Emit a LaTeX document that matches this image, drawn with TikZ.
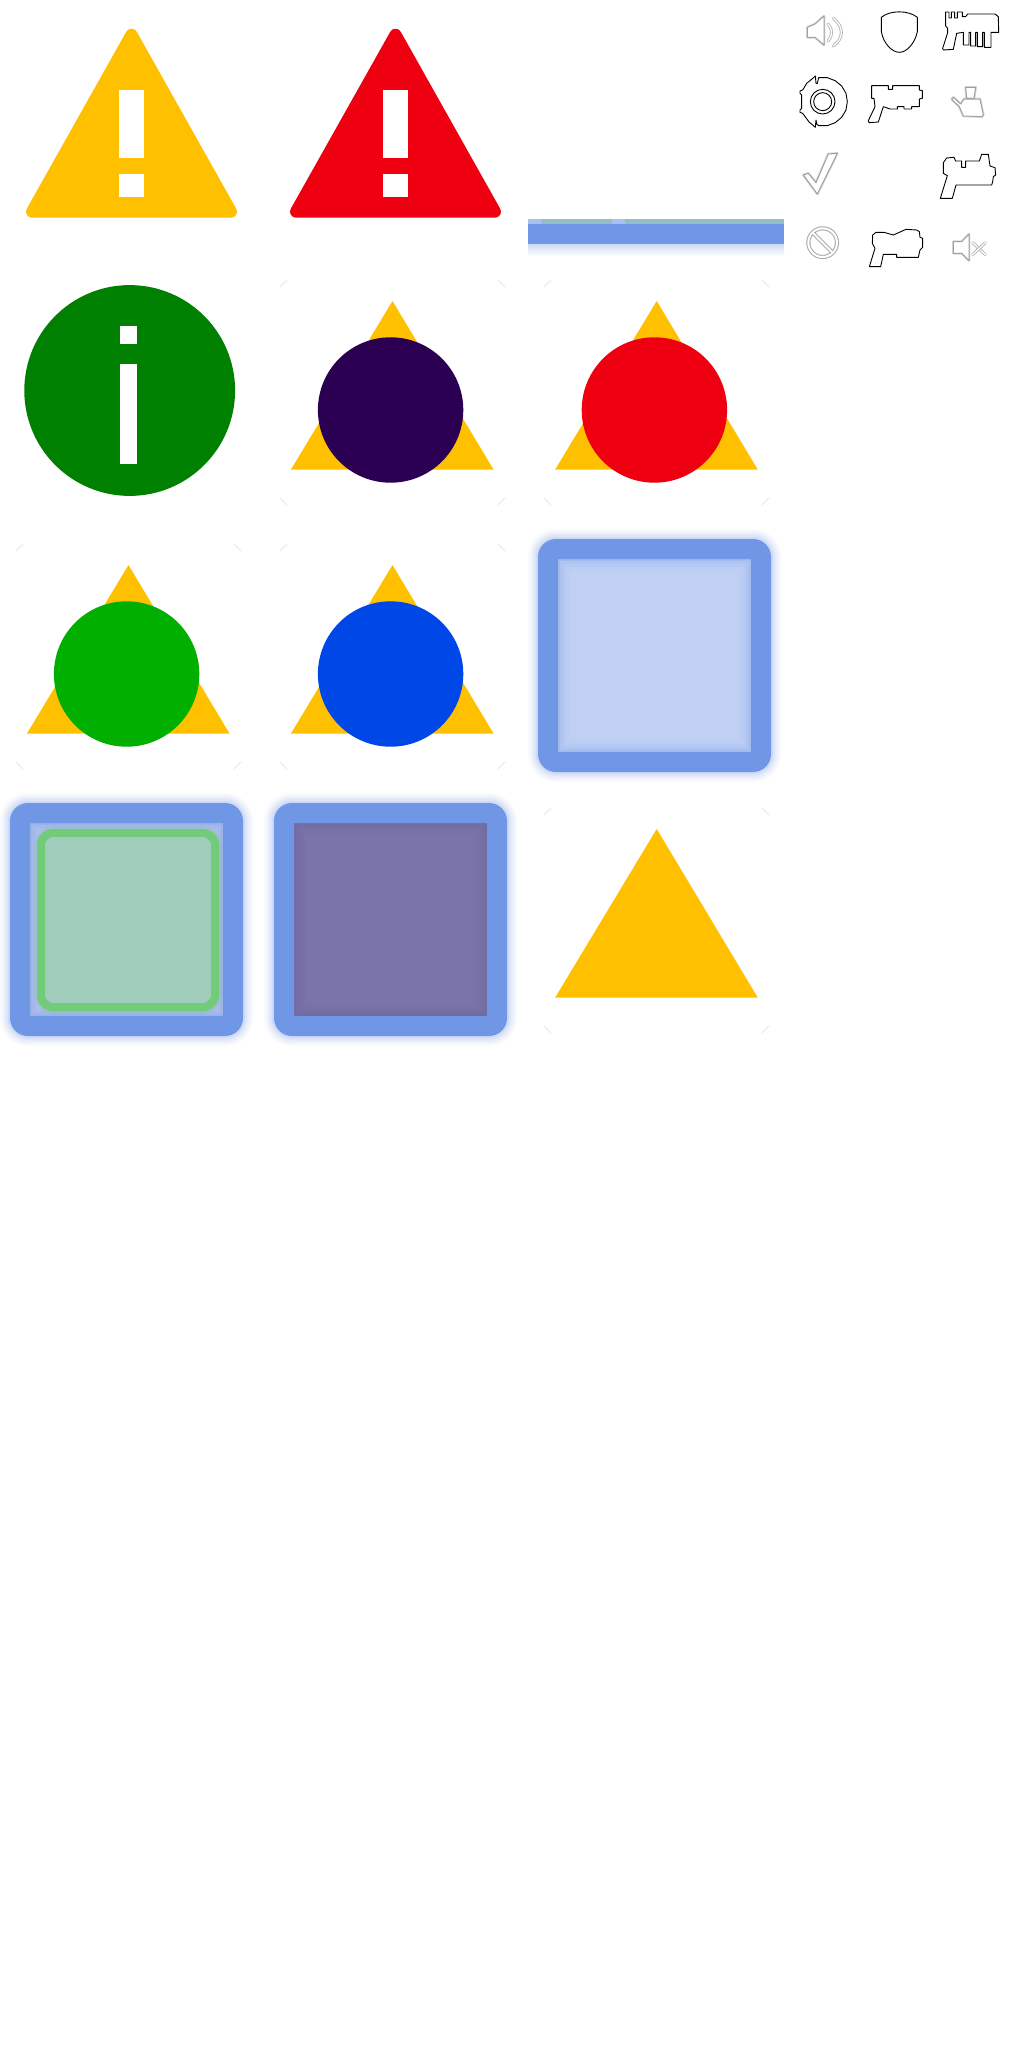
\documentclass[tikz,border=0pt]{standalone}
\definecolor{warnY}{HTML}{FFC000}
\definecolor{warnR}{HTML}{EE0010}
\definecolor{infoG}{HTML}{008000}
\definecolor{dotP}{HTML}{2B0052}
\definecolor{dotG}{HTML}{00AF00}
\definecolor{dotB}{HTML}{0047E8}
\definecolor{frameB}{HTML}{7096E6}
\definecolor{paleB}{HTML}{C0D0F4}
\definecolor{gapB}{HTML}{B4C3EC}
\definecolor{ringG}{HTML}{72CB78}
\definecolor{mintF}{HTML}{A0CDBB}
\definecolor{duskF}{HTML}{7B74A8}
\definecolor{duskE}{HTML}{5F5FA4}
\definecolor{iconG}{HTML}{A0A0A0}
\tikzset{
  inkline/.style={draw=black,line width=0.9pt,line join=round,fill=white},
  gblur/.style={draw=iconG,line width=2.6pt,line join=round,opacity=0.4},
  gline/.style={draw=iconG,line width=1pt,line join=round,fill=white},
  zoomA/.style={shift={(800,0)},x=0.33333pt,y=-0.33333pt},
  zoomB/.style={shift={(800,140)},x=0.33333pt,y=-0.33333pt},
  tickmark/.style={draw=black!13,line width=0.5pt}
}
% warning triangle
\newcommand{\warnsign}[2]{%
  \begin{scope}[shift={(#1,0)}]
    \fill[#2,draw=#2,line width=12pt,line join=round] (131.5,34.7) -- (231,211.7) -- (32,211.7) -- cycle;
    \fill[white] (119,90) rectangle (144,157.5);
    \fill[white] (119,174) rectangle (144,197);
  \end{scope}}
% faint tile corners
\newcommand{\tiletick}[2]{%
  \begin{scope}[shift={(#1,#2)}]
    \draw[tickmark] (0,7) -- (7,0);
    \draw[tickmark] (218,0) -- (225,7);
    \draw[tickmark] (0,218) -- (7,225);
    \draw[tickmark] (225,218) -- (218,225);
  \end{scope}}
% triangle tile: apex x, apex y
\newcommand{\tritile}[2]{%
  \fill[warnY] (#1,#2) -- ++(101,168.5) -- ++(-202.5,0) -- cycle;}
% glowing frame with inner fill colours
\newcommand{\framesq}[4]{%
  \begin{scope}[shift={(#1,#2)}]
    \foreach \w/\o in {20/0.04,16/0.05,12/0.07,8/0.09,4/0.14}{
      \draw[frameB,line width=\w pt,opacity=\o,rounded corners=18pt] (0,0) rectangle (233,233);}
    \fill[#3] (20,20) rectangle (213,213);
    \begin{scope}
      \clip (20,20) rectangle (213,213);
      \foreach \w/\o in {24/0.05,16/0.07,10/0.1,4/0.16}{
        \draw[#4,line width=\w pt,opacity=\o] (20,20) rectangle (213,213);}
    \end{scope}
    \fill[frameB,even odd rule,rounded corners=0pt]
      [rounded corners=18pt] (0,0) rectangle (233,233)
      [sharp corners] (20,20) rectangle (213,213);
  \end{scope}}
\newcommand{\gshape}[1]{\path[gblur] #1; \path[gline] #1;}
\newcommand{\gstrip}[1]{\draw[iconG,line width=3pt,opacity=0.8,line cap=round] #1; \draw[white,line width=1.3pt,line cap=round] #1;}
\begin{document}
\begin{tikzpicture}[x=1pt,y=-1pt]
\useasboundingbox (0,0) rectangle (1024,2048);
\fill[white] (0,0) rectangle (1024,2048);

% row 1
\warnsign{0}{warnY}
\warnsign{264}{warnR}

% cut-off bar
\fill[mintF!72!frameB] (528,219) rectangle (784,224);
\fill[frameB!60!white] (528,219) rectangle (541,224);
\fill[frameB!60!white] (612,219) rectangle (625,224);
\fill[frameB] (528,224) rectangle (784,244);
\shade[top color=frameB!35!white,bottom color=white] (528,244) rectangle (784,256);

% row 2
\fill[infoG] (129.7,390.5) circle (105.4);
\fill[white] (119.7,326) rectangle (137,344);
\fill[white] (119.7,364) rectangle (137,464);

\tiletick{280}{280}
\tritile{392.5}{301}
\fill[dotP] (390.6,410) circle (72.7);

\tiletick{544}{280}
\tritile{656.7}{301}
\fill[warnR] (654.4,410) circle (72.7);

% row 3
\tiletick{16}{544}
\tritile{128.5}{565}
\fill[dotG] (126.6,674) circle (72.7);

\tiletick{280}{544}
\tritile{392.5}{565}
\fill[dotB] (390.6,674) circle (72.7);

\framesq{538}{539}{paleB}{frameB}

% row 4
\framesq{10}{803}{gapB}{frameB}
\begin{scope}
  \draw[ringG,line width=14pt,opacity=0.18,rounded corners=13pt] (41,833) rectangle (215,1007);
  \fill[ringG,even odd rule] [rounded corners=16pt] (37,829) rectangle (219,1011)
     [rounded corners=9pt] (45,837) rectangle (211,1003);
  \fill[mintF,rounded corners=9pt] (45,837) rectangle (211,1003);
\end{scope}
\framesq{274}{803}{duskF}{duskE}
\tiletick{544}{808}
\tritile{656.7}{829}

% icons, first block
\begin{scope}[zoomA]
  % speaker
  \gshape{(22,82) -- (45,72) -- (72,48) -- (72,135) -- (45,112) -- (22,112) -- cycle}
  \gstrip{(84,72) .. controls (98,85) and (98,110) .. (84,123)}
  \gstrip{(100,55) .. controls (132,80) and (132,115) .. (100,138)}
  % shield
  \path[inkline] (244,52) .. controls (270,30) and (325,30) .. (352,52) -- (352,95) .. controls (345,130) and (320,157) .. (298,157) .. controls (276,157) and (250,130) .. (244,95) -- cycle;
  % comb gun
  \path[inkline] (437,36) -- (447,36) -- (447,54) -- (454,54) -- (454,36) -- (464,36) -- (464,54) -- (472,54) -- (472,36) -- (487,36) -- (487,50) -- (497,50) -- (503,42) -- (585,42) -- (595,50) -- (596,97) -- (573,97) -- (573,142) -- (553,142) -- (553,97) -- (548,97) -- (548,140) -- (532,140) -- (532,97) -- (527,97) -- (527,138) -- (512,138) -- (512,97) -- (507,97) -- (507,135) -- (490,135) -- (490,97) -- (470,100) -- (460,148) -- (430,150) -- (428,145) -- (443,98) -- (443,85) -- (437,78) -- cycle;
  % disc
  \path[inkline] (56,233) -- (82,233) -- (105.5,242) -- (125,258) -- (138,280) -- (142,305) -- (138,330) -- (125,352) -- (105.5,368) -- (82,377) -- (56,377) -- (50,372) -- (48,360) -- (46,382) -- (38,375) -- (28,367) -- (8,340) -- (0,337) -- (0,330) -- (5,325) -- (5,285) -- (0,280) -- (0,273) -- (8,270) -- (20,250) -- (36,237) -- (46,228) -- (48,250) -- (52,250) -- cycle;
  \draw[black,line width=0.9pt] (68,305) circle (37);
  \draw[black,line width=0.9pt] (68,305) circle (27);
  % pistol
  \path[inkline] (215,257) -- (265,257) -- (265,268) -- (278,268) -- (278,257) -- (358,257) -- (358,270) -- (367,272) -- (367,295) -- (358,297) -- (358,320) -- (335,320) -- (335,327) -- (312,327) -- (312,320) -- (292,320) -- (292,327) -- (270,327) -- (250,320) -- (235,366) -- (207,368) -- (205,362) -- (225,320) -- (222,295) -- (215,295) -- cycle;
  % kettle
  \gshape{(497,262) -- (527,262) -- (522,295) -- (500,295) -- cycle}
  \gshape{(492,297) -- (540,297) -- (550,345) -- (545,350) -- (490,348) -- (478,320) -- (455,298) -- (460,292) -- (482,312) -- cycle}
\end{scope}

% icons, second block
\begin{scope}[zoomB]
  % check mark
  \gshape{(10,105) -- (25,100) -- (48,128) -- (85,42) -- (112,40) -- (52,162) -- cycle}
  % blaster
  \path[inkline] (430,68) -- (440,54) -- (462,52) -- (467,63) -- (485,63) -- (485,82) -- (497,82) -- (497,63) -- (538,63) -- (545,43) -- (565,43) -- (570,78) -- (585,83) -- (587,105) -- (580,110) -- (578,125) -- (575,135) -- (468,135) -- (457,175) -- (421,175) -- (442,107) -- (430,100) -- cycle;
  % no sign
  \draw[iconG,line width=4.2pt,opacity=0.85] (68,308) circle (43);
  \draw[white,line width=2pt] (68,308) circle (43);
  \draw[iconG,line width=4pt,opacity=0.85] (40,280) -- (96,336);
  \draw[white,line width=1.9pt] (38,278) -- (98,338);
  % ray gun
  \path[inkline] (218,285) -- (228,277) -- (252,277) -- (280,285) -- (318,268) -- (350,270) -- (358,275) -- (360,292) -- (368,295) -- (368,322) -- (360,330) -- (355,352) -- (290,352) -- (290,343) -- (250,343) -- (242,380) -- (208,380) -- (225,325) -- (217,310) -- cycle;
  % muted speaker
  \gshape{(460,305) -- (485,305) -- (507,282) -- (507,362) -- (485,340) -- (460,340) -- cycle}
  \gstrip{(518,308) -- (556,344)}
  \gstrip{(556,308) -- (518,344)}
\end{scope}
\end{tikzpicture}
\end{document}
